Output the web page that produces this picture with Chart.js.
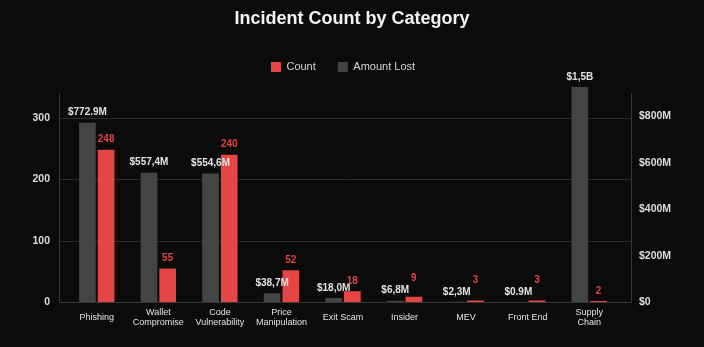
<!DOCTYPE html>
<html>
<head>
<meta charset="utf-8">
<script src="https://cdn.jsdelivr.net/npm/chart.js@4.4.1/dist/chart.umd.min.js"></script>
<style>
  html, body { margin: 0; padding: 0; background: #0b0b0b; }
  #wrap { width: 704px; height: 347px; }
</style>
</head>
<body>
<div id="wrap"><canvas id="chart"></canvas></div>
<script>
// Datos del grafico
const categories = ['Phishing', ['Wallet', 'Compromise'], ['Code', 'Vulnerability'], ['Price', 'Manipulation'], 'Exit Scam', 'Insider', 'MEV', 'Front End', ['Supply', 'Chain']];
const incidentCount = [248, 55, 240, 52, 18, 9, 3, 3, 2];
const amountLost = [772.9, 557.4, 554.6, 38.7, 18.0, 6.8, 2.3, 0.9, 1500]; // en millones
const amountLabels = ['$772.9M', '$557,4M', '$554,6M', '$38,7M', '$18,0M', '$6,8M', '$2,3M', '$0.9M', '$1,5B'];
const countTicks = [0, 100, 200, 300];
const amountTicks = [0, 200, 400, 600, 800];
const amountTickLabels = ['$0', '$200M', '$400M', '$600M', '$800M'];

const FONT = '"Liberation Sans", Arial, sans-serif';
const RED = '#e64545';
const GRAY = '#444444';
const CLIP_TOP = 6;

// ejes y grilla, un poco mas anchos que el area de barras
const ejes = {
    id: 'ejes',
    beforeDatasetsDraw(chart) {
        const { ctx, chartArea: a, scales } = chart;
        const x0 = Math.round(a.left) - 6.5;
        const x1 = Math.round(a.right) + 11.5;
        const yb = Math.round(a.bottom) + 0.5;
        ctx.save();
        ctx.lineWidth = 1;
        ctx.strokeStyle = '#2c2c2c';
        scales.y.ticks.forEach(t => {
            if (t.value === 0) return;
            const y = Math.round(scales.y.getPixelForValue(t.value)) + 0.5;
            ctx.beginPath(); ctx.moveTo(x0, y); ctx.lineTo(x1, y); ctx.stroke();
        });
        ctx.strokeStyle = '#383838';
        ctx.beginPath();
        ctx.moveTo(x0, a.top); ctx.lineTo(x0, yb); ctx.lineTo(x1, yb); ctx.lineTo(x1, a.top);
        ctx.stroke();
        ctx.restore();
    }
};

// etiquetas encima de cada barra
const etiquetas = {
    id: 'etiquetas',
    afterDatasetsDraw(chart) {
        const { ctx, chartArea: a } = chart;
        const grises = chart.getDatasetMeta(0).data;
        const rojas = chart.getDatasetMeta(1).data;
        ctx.save();
        ctx.font = 'bold 10px ' + FONT;
        ctx.textAlign = 'center';
        ctx.textBaseline = 'middle';
        grises.forEach((bar, i) => {
            const top = Math.max(bar.y, a.top - CLIP_TOP);
            const yGris = top - 10;
            ctx.fillStyle = '#e2e2e2';
            ctx.fillText(amountLabels[i], bar.x, yGris);
            // si choca con la etiqueta gris, subirla
            let yRoja = rojas[i].y - 10;
            if (Math.abs(yRoja - yGris) < 6) yRoja = yGris - 12;
            ctx.fillStyle = '#de4242';
            ctx.fillText(String(incidentCount[i]), rojas[i].x, yRoja);
        });
        ctx.restore();
    }
};

// espacio extra debajo de la leyenda
const legendGap = {
    id: 'legendGap',
    afterInit(chart) {
        const fit = chart.legend.fit;
        chart.legend.fit = function () { fit.call(this); this.height += 10.5; };
    }
};

new Chart(document.getElementById('chart'), {
    type: 'bar',
    data: {
        labels: categories,
        datasets: [
            {
                label: 'Amount Lost',
                data: amountLost,
                yAxisID: 'y1',
                backgroundColor: GRAY,
                borderWidth: 0,
                categoryPercentage: 0.607,
                barPercentage: 0.893,
                clip: { left: 0, top: CLIP_TOP, right: 0, bottom: 0 }
            },
            {
                label: 'Count',
                data: incidentCount,
                yAxisID: 'y',
                backgroundColor: RED,
                borderWidth: 0,
                categoryPercentage: 0.607,
                barPercentage: 0.893,
                clip: { left: 0, top: CLIP_TOP, right: 0, bottom: 0 }
            }
        ]
    },
    options: {
        responsive: true,
        maintainAspectRatio: false,
        animation: false,
        layout: { padding: { left: 0, right: 0, top: 0, bottom: 4 } },
        plugins: {
            title: {
                display: true,
                text: 'Incident Count by Category',
                color: '#f2f2f2',
                font: { family: FONT, size: 18, weight: 'bold' },
                padding: { top: 8, bottom: 10 }
            },
            legend: {
                position: 'top',
                fullSize: false,
                labels: {
                    color: '#d6d6d6',
                    font: { family: FONT, size: 11 },
                    boxWidth: 10,
                    boxHeight: 10,
                    padding: 22,
                    sort: (a, b) => b.datasetIndex - a.datasetIndex
                }
            },
            tooltip: { enabled: false }
        },
        scales: {
            x: {
                grid: { display: false, drawTicks: false },
                border: { display: false },
                ticks: {
                    color: '#e4e4e4',
                    font: { family: FONT, size: 9, lineHeight: 1.15 },
                    padding: 10,
                    crossAlign: 'center',
                    autoSkip: false,
                    maxRotation: 0
                }
            },
            y: {
                position: 'left',
                min: 0,
                max: 340,
                afterBuildTicks: s => { s.ticks = countTicks.map(v => ({ value: v })); },
                afterFit: s => { s.width = 66; },
                grid: { display: false, drawTicks: false },
                border: { display: false },
                ticks: { color: '#dcdcdc', font: { family: FONT, size: 10.5, weight: 'bold' }, padding: 16 }
            },
            y1: {
                position: 'right',
                min: 0,
                max: 900,
                afterBuildTicks: s => { s.ticks = amountTicks.map(v => ({ value: v })); },
                afterFit: s => { s.width = 84; },
                grid: { display: false, drawTicks: false },
                border: { display: false },
                ticks: {
                    color: '#dcdcdc',
                    font: { family: FONT, size: 10.5, weight: 'bold' },
                    padding: 19,
                    callback: v => amountTickLabels[amountTicks.indexOf(v)]
                }
            }
        }
    },
    plugins: [ejes, etiquetas, legendGap]
});
</script>
</body>
</html>
